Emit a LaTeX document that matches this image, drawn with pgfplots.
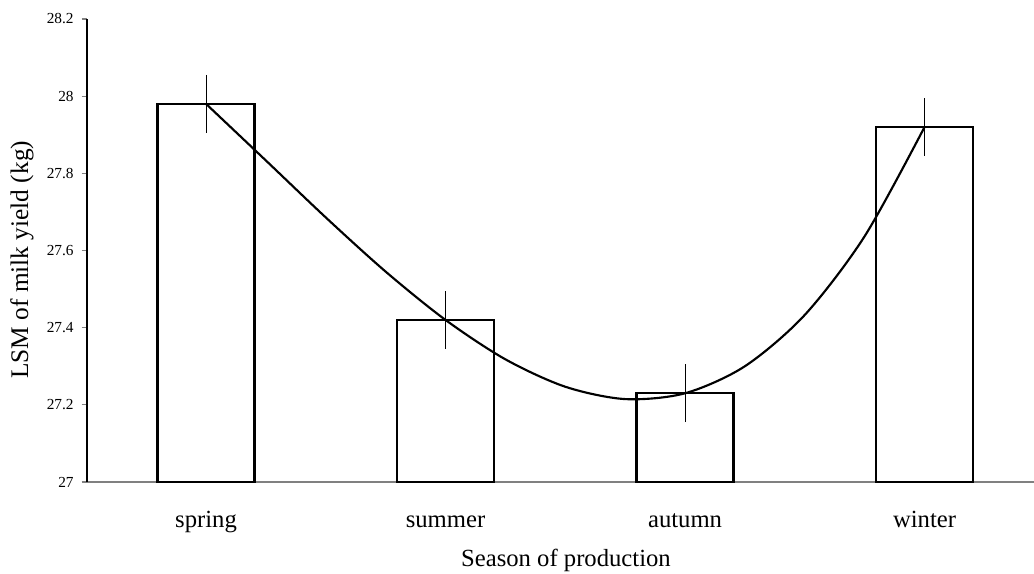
\documentclass[border=0pt]{standalone}
\usepackage{pgfplots}
\pgfplotsset{compat=1.18}
\usepackage{fontspec}
\setmainfont{Liberation Serif}
\begin{document}
\begin{tikzpicture}
\begin{axis}[
  scale only axis,
  width=710.25pt, height=347.25pt,
  xmin=0.503, xmax=4.457,
  ymin=27, ymax=28.2,
  axis x line*=bottom, axis y line*=left,
  x axis line style={draw=gray, line width=0.9pt},
  y axis line style={draw=black, line width=0.9pt},
  ytick={27,27.2,...,28.21},
  yticklabel style={font=\fontsize{11.5}{13}\selectfont, xshift=-2.5pt},
  /pgf/number format/assume math mode=true,
  /pgf/number format/fixed,
  tick align=outside,
  major tick length=4pt,
  ytick style={draw=gray, line width=0.9pt},
  xtick={1,2,3,4},
  xticklabels={spring,summer,autumn,winter},
  xtick style={draw=none},
  xticklabel style={font=\fontsize{18.5}{22}\selectfont, anchor=base, yshift=-30pt},
  extra x ticks={0.5,1.5,2.5,3.5},
  extra x tick labels={},
  extra x tick style={tick style={draw=gray, line width=0.9pt}, major tick length=5pt},
  xlabel={Season of production},
  ylabel={LSM of milk yield (kg)},
  xlabel style={font=\fontsize{18.5}{22}\selectfont, at={(axis description cs:0.5058,-0.183)}, anchor=base},
  ylabel style={font=\fontsize{19}{22}\selectfont, at={(axis description cs:-0.0687,0.48)}, anchor=center},
  clip=false,
]
\addplot[ybar, bar width=72.75pt, fill=white, draw=black, line width=1.6pt,
  error bars/.cd, y dir=both, y explicit, error mark=none,
  error bar style={line width=0.8pt, black}]
  coordinates {(1,27.98) +- (0,0.075) (2,27.42) +- (0,0.075) (3,27.23) +- (0,0.075) (4,27.92) +- (0,0.075)};
\addplot[smooth, line width=1.6pt, black, mark=none] coordinates {
  (1,27.98) (1.25,27.8332) (1.5,27.6856) (1.75,27.5452) (2,27.42)
  (2.25,27.3179) (2.5,27.2469) (2.75,27.2149) (3,27.23)
  (3.25,27.3001) (3.5,27.4331) (3.75,27.6371) (4,27.92)};
\end{axis}
\pgfresetboundingbox
\path (-65.25pt,-69pt) rectangle (710.25pt,361.5pt);
\end{tikzpicture}
\end{document}
